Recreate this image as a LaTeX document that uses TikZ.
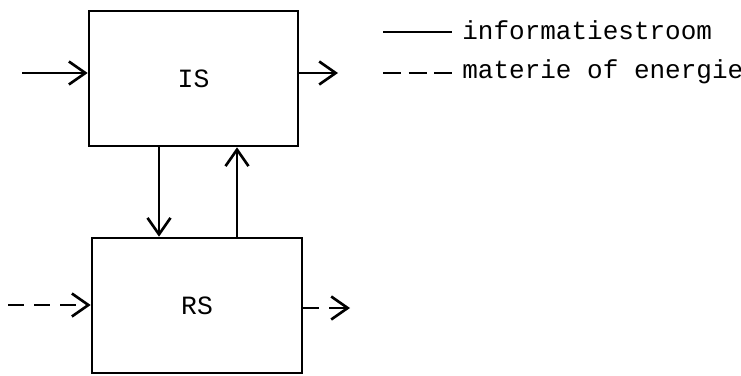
\documentclass[tikz,border=0pt]{standalone}
\usepackage{fontspec}
\setmonofont{Liberation Mono}
\usetikzlibrary{arrows.meta,positioning}
\tikzset{
  box/.style={draw, line width=1.5pt, minimum width=4.18cm, minimum height=2.7cm, inner sep=0pt},
  flow/.style={line width=1.5pt, -{Straight Barb[length=3.3mm,width=4.6mm,line width=1.5pt]}},
  matter/.style={flow, dash pattern=on 0.32cm off 0.2cm},
  legtext/.style={anchor=west, inner sep=0pt, font=\ttfamily\fontsize{14.8pt}{18pt}\selectfont},
}

\begin{document}
\begin{tikzpicture}
    \useasboundingbox (0,0) rectangle (14.82,7.5);

    % The two subsystems
    \node[box, font=\ttfamily\fontsize{15pt}{18pt}\selectfont] (IS) at (3.87,5.93) {IS};
    \node[box, minimum width=4.2cm, font=\ttfamily\fontsize{15pt}{18pt}\selectfont] (RS) at (3.94,1.39) {RS};

    % Free ends of the in- and outgoing arrows
    \coordinate (isin) at (0.44,6.04);
    \coordinate (isout) at (6.76,6.04);
    \coordinate (rsin) at (0.16,1.4);
    \coordinate (rsout) at (7.0,1.34);

    % Information flow
    \draw[flow] (isin) -- (isin -| IS.west);
    \draw[flow] (isout -| IS.east) -- (isout);
    \draw[flow] ([xshift=-0.69cm]IS.south) -- ([xshift=-0.69cm]IS.south |- RS.north);
    \draw[flow] ([xshift=0.87cm]IS.south |- RS.north) -- ([xshift=0.87cm]IS.south);

    % Matter or energy
    \draw[matter] (rsin) -- (rsin -| RS.west);
    \draw[matter] (rsout -| RS.east) -- (rsout);

    % Legend
    \node[legtext] (lginfo) at (9.24,6.9) {informatiestroom};
    \node[legtext] (lgmat) at (9.24,6.06) {materie of energie};
    \coordinate (lgsolid) at (7.66,6.86);
    \coordinate (lgdash) at (7.66,6.04);
    \draw[line width=1.5pt] (lgsolid) -- ([xshift=-0.2cm]lgsolid -| lginfo.west);
    \draw[line width=1.5pt, dash pattern=on 0.36cm off 0.15cm] (lgdash) -- ([xshift=-0.2cm]lgdash -| lgmat.west);
\end{tikzpicture}
\end{document}
